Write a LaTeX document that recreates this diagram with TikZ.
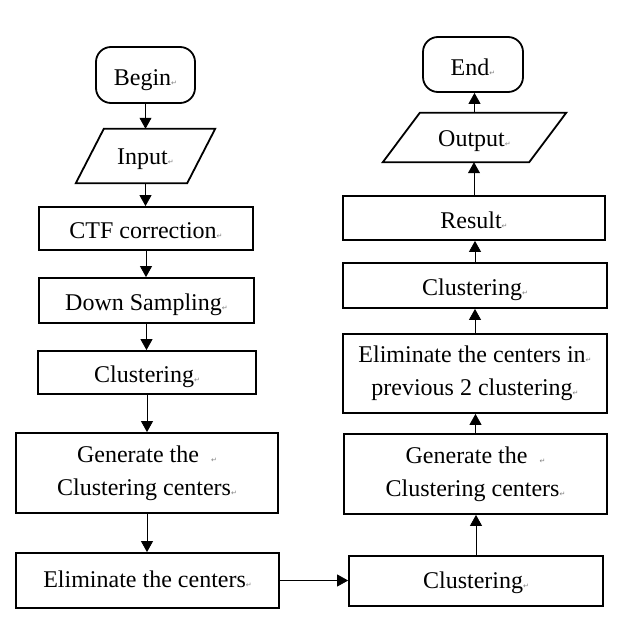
\documentclass[tikz,border=0pt]{standalone}
\usepackage{fontspec}
\setmainfont{Liberation Serif}
\newfontfamily\markfont{DejaVu Sans}
\usetikzlibrary{arrows.meta}
\newcommand{\pmark}{{\markfont\fontsize{7}{7}\selectfont\color{gray}\char"21B5}}
\begin{document}
\begin{tikzpicture}[x=1pt,y=-1pt,
  base/.style={draw,line width=1.8pt,inner sep=0pt,font=\fontsize{24}{33}\selectfont},
  box/.style={base,text height=20pt,text depth=0pt},
  boxtwo/.style={base,align=center},
  term/.style={box,rounded corners=15pt},
  io/.style={inner sep=0pt,font=\fontsize{24}{33}\selectfont,text height=17pt,text depth=0pt},
  para/.style={line width=1.8pt,line join=miter},
  arr/.style={line width=0.8pt,-{Triangle[width=12pt,length=11pt]}}
]
\useasboundingbox (0,0) rectangle (640,632);
% left column
\node[term,minimum width=99pt,minimum height=56pt] (begin) at (145.5,75) {Begin\pmark};
\node[io,minimum width=139pt,minimum height=54pt] (input) at (145.5,156) {Input\pmark};
\draw[para] ([xshift=28pt]input.north west) -- (input.north east) -- ([xshift=-28pt]input.south east) -- (input.south west) -- cycle;
\node[box,minimum width=214pt,minimum height=43pt] (ctf) at (146,228.5) {CTF correction\pmark};
\node[box,minimum width=215pt,minimum height=45pt] (down) at (146.5,300.5) {Down Sampling\pmark};
\node[box,minimum width=218pt,minimum height=43pt] (clusa) at (147,372.5) {Clustering\pmark};
\node[boxtwo,minimum width=262pt,minimum height=80pt] (gena) at (147,473) {Generate the\ \ \pmark\\Clustering centers\pmark};
\node[box,text height=14pt,minimum width=263pt,minimum height=55pt] (elima) at (147.5,580.5) {Eliminate the centers\pmark};
% right column
\node[box,text height=15pt,minimum width=254pt,minimum height=50pt] (clusb) at (476,581) {Clustering\pmark};
\node[boxtwo,minimum width=263pt,minimum height=80pt] (genb) at (475.5,474) {Generate the\ \ \pmark\\Clustering centers\pmark};
\node[boxtwo,minimum width=264pt,minimum height=79pt] (elimb) at (475,373.5) {Eliminate the centers in\pmark\\previous 2 clustering\pmark};
\node[box,minimum width=264pt,minimum height=45pt] (clusc) at (475,285.5) {Clustering\pmark};
\node[box,minimum width=262pt,minimum height=44pt] (result) at (474,218) {Result\pmark};
\node[io,minimum width=183pt,minimum height=49pt] (output) at (474.5,137.5) {Output\pmark};
\draw[para] ([xshift=37pt]output.north west) -- (output.north east) -- ([xshift=-37pt]output.south east) -- (output.south west) -- cycle;
\node[term,text height=22pt,minimum width=100pt,minimum height=55pt] (end) at (473,64.5) {End\pmark};
% connectors
\draw[arr] (begin) -- (begin |- input.north);
\draw[arr] (input) -- (input |- ctf.north);
\draw[arr] (ctf) -- (ctf |- down.north);
\draw[arr] (down) -- (down |- clusa.north);
\draw[arr] (clusa) -- (clusa |- gena.north);
\draw[arr] (gena) -- (gena |- elima.north);
\draw[arr] (elima) -- (elima -| clusb.west);
\draw[arr] (clusb) -- (clusb |- genb.south);
\draw[arr] (genb) -- (genb |- elimb.south);
\draw[arr] (elimb) -- (elimb |- clusc.south);
\draw[arr] (clusc) -- (clusc |- result.south);
\draw[arr] (result) -- (result |- output.south);
\draw[arr] (output) -- (output |- end.south);
\end{tikzpicture}
\end{document}
